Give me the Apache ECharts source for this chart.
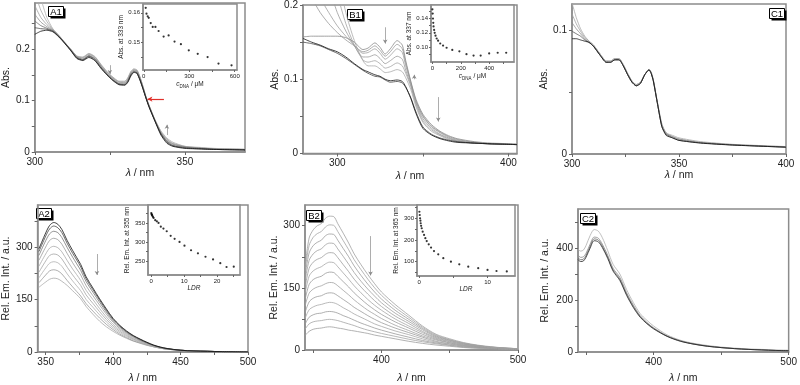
<!DOCTYPE html>
<html>
<head>
<meta charset="utf-8">
<script src="https://cdn.jsdelivr.net/npm/echarts/dist/echarts.min.js"></script>
<style>
  body { margin: 0; background: #fff; }
  #chart { width: 800px; height: 385px; }
</style>
</head>
<body>
<div id="chart"></div>
<script>
// ---- A1 : absorption, titration ----
var a1Wl = [300, 302, 304, 306, 308, 310, 312, 314, 316, 318, 320, 322, 324, 326, 328, 330, 331, 332, 333, 334, 335, 336, 337, 338, 340, 342, 344, 346, 350, 355, 360, 370];
var a1Spectra = [
  [0.360, 0.300, 0.262, 0.240, 0.227, 0.213, 0.200, 0.187, 0.185, 0.192, 0.186, 0.171, 0.157, 0.146, 0.138, 0.138, 0.145, 0.157, 0.162, 0.160, 0.147, 0.128, 0.108, 0.092, 0.063, 0.041, 0.027, 0.019, 0.011, 0.009, 0.007, 0.005],
  [0.310, 0.276, 0.254, 0.239, 0.227, 0.213, 0.200, 0.186, 0.184, 0.191, 0.185, 0.170, 0.156, 0.145, 0.137, 0.137, 0.144, 0.156, 0.161, 0.159, 0.146, 0.128, 0.108, 0.091, 0.063, 0.040, 0.025, 0.017, 0.011, 0.008, 0.006, 0.005],
  [0.285, 0.262, 0.248, 0.238, 0.226, 0.213, 0.199, 0.186, 0.183, 0.190, 0.184, 0.169, 0.155, 0.144, 0.136, 0.135, 0.142, 0.154, 0.160, 0.158, 0.145, 0.127, 0.107, 0.091, 0.062, 0.038, 0.024, 0.016, 0.010, 0.008, 0.006, 0.005],
  [0.268, 0.253, 0.244, 0.237, 0.226, 0.212, 0.199, 0.185, 0.181, 0.188, 0.182, 0.167, 0.153, 0.143, 0.134, 0.134, 0.140, 0.153, 0.159, 0.157, 0.144, 0.126, 0.107, 0.090, 0.062, 0.037, 0.022, 0.015, 0.010, 0.007, 0.006, 0.005],
  [0.255, 0.246, 0.241, 0.236, 0.225, 0.212, 0.198, 0.184, 0.180, 0.187, 0.181, 0.166, 0.152, 0.141, 0.133, 0.132, 0.139, 0.151, 0.157, 0.155, 0.142, 0.125, 0.106, 0.090, 0.061, 0.036, 0.021, 0.013, 0.009, 0.007, 0.005, 0.004],
  [0.242, 0.240, 0.239, 0.235, 0.225, 0.212, 0.198, 0.183, 0.179, 0.186, 0.179, 0.164, 0.151, 0.140, 0.132, 0.131, 0.137, 0.150, 0.156, 0.154, 0.141, 0.124, 0.106, 0.089, 0.061, 0.035, 0.019, 0.012, 0.008, 0.006, 0.005, 0.004],
  [0.229, 0.235, 0.237, 0.234, 0.224, 0.211, 0.197, 0.182, 0.178, 0.184, 0.178, 0.163, 0.150, 0.139, 0.131, 0.130, 0.136, 0.148, 0.155, 0.153, 0.140, 0.123, 0.105, 0.088, 0.060, 0.033, 0.017, 0.011, 0.007, 0.006, 0.005, 0.004]
];
var a1InsetX = [13, 18, 26, 33, 46, 59, 77, 98, 131, 164, 203, 245, 297, 356, 421, 493, 579];
var a1InsetY = [0.1617, 0.1597, 0.1588, 0.1583, 0.1565, 0.1552, 0.1552, 0.1538, 0.1519, 0.1523, 0.1502, 0.1493, 0.1472, 0.1460, 0.1449, 0.1427, 0.1421];

// ---- B1 ----
var b1Wl = [280, 285, 290, 295, 300, 305, 310, 315, 318, 322, 325, 328, 331, 335, 338, 340, 343, 346, 350, 355, 360, 365, 370, 380, 390, 405];
var b1Spectra = [
  [0.50, 0.44, 0.38, 0.31, 0.245, 0.190, 0.152, 0.125, 0.118, 0.118, 0.114, 0.109, 0.110, 0.113, 0.110, 0.102, 0.086, 0.063, 0.042, 0.030, 0.024, 0.019, 0.016, 0.014, 0.013, 0.012],
  [0.40, 0.35, 0.31, 0.26, 0.215, 0.175, 0.146, 0.126, 0.123, 0.125, 0.121, 0.115, 0.117, 0.122, 0.118, 0.108, 0.090, 0.066, 0.044, 0.032, 0.025, 0.020, 0.017, 0.014, 0.013, 0.012],
  [0.32, 0.29, 0.255, 0.225, 0.190, 0.165, 0.145, 0.130, 0.130, 0.133, 0.128, 0.121, 0.125, 0.131, 0.127, 0.112, 0.092, 0.068, 0.047, 0.034, 0.026, 0.021, 0.017, 0.014, 0.013, 0.012],
  [0.26, 0.235, 0.21, 0.19, 0.172, 0.158, 0.146, 0.135, 0.136, 0.141, 0.135, 0.127, 0.132, 0.141, 0.136, 0.118, 0.094, 0.070, 0.050, 0.036, 0.028, 0.022, 0.018, 0.015, 0.013, 0.012],
  [0.23, 0.21, 0.19, 0.175, 0.163, 0.153, 0.145, 0.137, 0.139, 0.145, 0.139, 0.131, 0.137, 0.147, 0.141, 0.122, 0.096, 0.071, 0.051, 0.037, 0.029, 0.023, 0.019, 0.015, 0.013, 0.012],
  [0.157, 0.158, 0.158, 0.158, 0.158, 0.156, 0.150, 0.140, 0.142, 0.149, 0.143, 0.134, 0.141, 0.152, 0.146, 0.125, 0.097, 0.073, 0.053, 0.039, 0.030, 0.024, 0.020, 0.016, 0.014, 0.013],
  [0.150, 0.148, 0.145, 0.140, 0.135, 0.128, 0.120, 0.112, 0.108, 0.104, 0.103, 0.099, 0.096, 0.097, 0.095, 0.089, 0.075, 0.056, 0.036, 0.026, 0.021, 0.018, 0.016, 0.014, 0.013, 0.012],
  [0.155, 0.150, 0.146, 0.141, 0.137, 0.130, 0.121, 0.113, 0.110, 0.106, 0.104, 0.100, 0.098, 0.099, 0.097, 0.090, 0.074, 0.054, 0.034, 0.025, 0.020, 0.017, 0.015, 0.014, 0.013, 0.012]
];
var b1InsetX = [0, 2, 4, 6, 8, 12, 16, 22, 30, 40, 55, 75, 100, 140, 190, 240, 290, 340, 400, 460, 520];
var b1InsetY = [0.153, 0.147, 0.140, 0.134, 0.129, 0.124, 0.120, 0.116, 0.112, 0.109, 0.105, 0.102, 0.099, 0.096, 0.094, 0.090, 0.088, 0.088, 0.091, 0.092, 0.092];

// ---- C1 ----
var c1Wl = [300, 302, 304, 306, 308, 310, 313, 316, 318, 320, 322, 324, 326, 328, 330, 332, 334, 336, 337, 338, 340, 342, 344, 347, 350, 360, 375, 400];
var c1Spectra = [
  [0.122, 0.110, 0.101, 0.095, 0.091, 0.088, 0.081, 0.075, 0.075, 0.077, 0.077, 0.072, 0.065, 0.059, 0.056, 0.058, 0.064, 0.068, 0.066, 0.060, 0.041, 0.024, 0.017, 0.015, 0.013, 0.010, 0.0078, 0.0060],
  [0.113, 0.105, 0.099, 0.094, 0.091, 0.088, 0.081, 0.075, 0.075, 0.077, 0.077, 0.072, 0.065, 0.059, 0.056, 0.058, 0.064, 0.068, 0.066, 0.060, 0.041, 0.024, 0.017, 0.014, 0.012, 0.0095, 0.0076, 0.0058],
  [0.106, 0.101, 0.097, 0.093, 0.090, 0.087, 0.080, 0.074, 0.074, 0.076, 0.076, 0.071, 0.064, 0.058, 0.055, 0.057, 0.064, 0.068, 0.065, 0.059, 0.040, 0.023, 0.016, 0.014, 0.012, 0.0092, 0.0074, 0.0056],
  [0.099, 0.097, 0.095, 0.092, 0.090, 0.087, 0.080, 0.074, 0.074, 0.076, 0.076, 0.071, 0.064, 0.058, 0.055, 0.057, 0.064, 0.068, 0.065, 0.059, 0.040, 0.022, 0.016, 0.013, 0.011, 0.0090, 0.0073, 0.0055],
  [0.093, 0.093, 0.092, 0.091, 0.090, 0.087, 0.080, 0.074, 0.074, 0.076, 0.076, 0.071, 0.064, 0.058, 0.055, 0.057, 0.064, 0.068, 0.065, 0.059, 0.040, 0.022, 0.015, 0.013, 0.011, 0.0088, 0.0072, 0.0055]
];

// ---- A2 : emission ----
var a2Wl = [345, 350, 353, 356, 359, 362, 366, 370, 373, 376, 380, 385, 390, 395, 400, 405, 410, 415, 420, 425, 430, 435, 440, 450, 460, 470, 480, 500];
var a2Spectra = [
  [185, 200, 208, 211, 209, 202, 190, 175, 164, 152, 130, 108, 88, 72, 59, 48, 39, 31, 25, 19, 15, 11, 8, 5, 3, 2, 1, 0],
  [198, 220, 232, 235, 232, 223, 204, 186, 173, 160, 138, 117, 97, 79, 64, 51, 41, 32, 26, 20, 15, 11, 8, 5, 3, 2, 1, 0],
  [212, 240, 254, 258, 255, 245, 223, 203, 189, 175, 150, 128, 106, 86, 69, 55, 44, 35, 27, 21, 15, 11, 8, 5, 3, 2, 1, 0],
  [228, 260, 276, 280, 277, 266, 242, 220, 205, 190, 163, 139, 115, 93, 74, 59, 47, 37, 29, 22, 16, 12, 8, 5, 3, 2, 1, 0],
  [245, 280, 297, 302, 298, 286, 261, 237, 221, 204, 176, 150, 124, 100, 79, 63, 50, 39, 31, 23, 17, 12, 9, 5, 3, 2, 1, 0],
  [262, 300, 319, 325, 321, 308, 281, 255, 237, 220, 189, 161, 134, 108, 85, 67, 53, 42, 33, 25, 18, 13, 9, 5, 3, 2, 1, 0],
  [276, 318, 338, 345, 341, 327, 298, 271, 252, 233, 201, 171, 142, 114, 89, 71, 56, 44, 34, 26, 19, 13, 9, 5, 3, 2, 1, 0],
  [287, 331, 352, 360, 355, 341, 310, 282, 263, 243, 209, 178, 148, 119, 93, 74, 58, 46, 36, 27, 19, 14, 10, 5, 3, 2, 1, 0],
  [295, 340, 362, 370, 365, 350, 318, 290, 270, 250, 215, 183, 152, 123, 96, 76, 60, 47, 37, 28, 20, 14, 10, 5, 3, 2, 1, 0]
];
var a2InsetX = [0, 0.1, 0.2, 0.3, 0.5, 0.7, 1.2, 1.7, 2.2, 2.9, 3.7, 4.7, 5.9, 7.1, 8.6, 10.1, 12.1, 14.2, 16.5, 18.8, 21, 22.9, 25.1];
var a2InsetY = [376, 373, 371, 369, 366, 363, 357, 354, 350, 340, 335, 328, 316, 308, 300, 290, 278, 270, 261, 254, 244, 234, 235];

// ---- B2 ----
var b2Wl = [344, 347, 350, 353, 356, 359, 362, 365, 368, 372, 376, 380, 385, 390, 395, 400, 410, 420, 430, 440, 450, 460, 470, 480, 490, 500];
var b2Spectra = [
  [35, 45, 50, 52, 53, 55, 56, 55, 53, 51, 48, 46, 43, 40, 36, 33, 27, 21, 16, 12, 9, 6, 4, 3, 2, 1],
  [50, 63, 68, 70, 71, 73, 74, 73, 71, 67, 63, 59, 53, 48, 44, 40, 33, 26, 20, 15, 11, 7, 5, 4, 2, 1],
  [62, 79, 85, 88, 89, 92, 93, 92, 89, 83, 78, 72, 65, 59, 53, 48, 39, 31, 23, 17, 12, 8, 6, 4, 3, 1],
  [76, 97, 104, 108, 110, 113, 115, 114, 110, 102, 95, 87, 79, 71, 63, 57, 46, 37, 27, 19, 14, 9, 6, 4, 3, 2],
  [90, 116, 125, 129, 131, 136, 138, 137, 131, 122, 113, 103, 93, 83, 74, 66, 53, 42, 31, 21, 15, 10, 7, 5, 3, 2],
  [106, 137, 147, 152, 155, 160, 163, 162, 155, 144, 133, 121, 108, 96, 86, 76, 60, 47, 34, 24, 17, 11, 8, 5, 3, 2],
  [121, 158, 170, 175, 178, 185, 188, 187, 178, 165, 152, 138, 123, 109, 97, 86, 68, 53, 38, 26, 18, 12, 8, 5, 4, 2],
  [136, 178, 191, 197, 201, 208, 212, 211, 201, 186, 171, 155, 138, 122, 108, 96, 75, 58, 42, 28, 20, 13, 9, 6, 4, 2],
  [150, 197, 212, 219, 223, 231, 235, 234, 223, 206, 189, 171, 152, 135, 119, 105, 82, 64, 45, 30, 21, 14, 10, 6, 4, 2],
  [165, 216, 232, 240, 244, 254, 258, 257, 244, 226, 207, 187, 166, 147, 130, 114, 89, 69, 49, 32, 23, 15, 10, 7, 4, 3],
  [178, 234, 252, 260, 265, 276, 280, 279, 265, 245, 225, 203, 180, 159, 140, 123, 96, 74, 52, 34, 24, 16, 11, 7, 5, 3],
  [190, 252, 272, 281, 286, 297, 302, 301, 286, 264, 242, 218, 194, 171, 150, 132, 103, 79, 55, 36, 25, 17, 11, 7, 5, 3],
  [200, 270, 290, 300, 305, 318, 323, 322, 305, 282, 258, 232, 206, 182, 160, 140, 110, 84, 58, 38, 27, 18, 12, 8, 5, 3]
];
var b2InsetX = [0.05, 0.1, 0.15, 0.2, 0.24, 0.3, 0.39, 0.53, 0.73, 0.92, 1.12, 1.41, 1.75, 2.18, 2.8, 3.54, 4.65, 5.87, 7.18, 8.63, 9.99, 11.3, 12.8];
var b2InsetY = [330, 315, 300, 289, 277, 265, 254, 238, 223, 208, 195, 180, 165, 149, 134, 116, 100, 88, 77, 70, 62, 57, 55];

// ---- C2 ----
var c2Wl = [344, 346, 348, 350, 353, 356, 359, 362, 366, 370, 375, 380, 385, 390, 395, 400, 410, 420, 430, 440, 450, 460, 470, 480, 490, 500];
var c2Spectra = [
  [395, 388, 392, 410, 448, 471, 465, 440, 390, 337, 300, 240, 190, 148, 122, 100, 66, 45, 33, 25, 19, 15, 12, 10, 8, 7],
  [372, 364, 366, 380, 415, 442, 438, 415, 372, 322, 287, 228, 180, 140, 114, 93, 62, 43, 31, 23, 17, 13, 10, 8, 6, 5],
  [362, 355, 357, 372, 407, 435, 431, 408, 365, 316, 280, 222, 175, 137, 111, 91, 61, 42, 30, 22, 17, 13, 10, 8, 6, 5],
  [355, 348, 350, 365, 400, 428, 424, 402, 360, 311, 275, 218, 171, 134, 109, 89, 60, 41, 30, 22, 17, 13, 10, 8, 6, 5]
];

// ---- styles ----
var FONT = '"Liberation Sans", Arial, sans-serif';
var FRAME = '#8c8c8c';
var a1Colors = ['#b0b0b0', '#a8a8a8', '#9e9e9e', '#8e8e8e', '#6a6a6a', '#444', '#111'];
var b1Colors = ['#aaa', '#a4a4a4', '#9c9c9c', '#a0a0a0', '#999', '#8a8a8a', '#444', '#111'];
var c1Colors = ['#aaa', '#a0a0a0', '#8a8a8a', '#555', '#111'];
var a2Colors = ['#aaa', '#999', '#b0b0b0', '#a4a4a4', '#aaa', '#9a9a9a', '#777', '#444', '#111'];
var b2Colors = ['#9e9e9e', '#a4a4a4', '#9a9a9a', '#a8a8a8', '#9c9c9c', '#a2a2a2', '#9a9a9a', '#a6a6a6', '#9e9e9e', '#a0a0a0', '#9c9c9c', '#a4a4a4', '#a0a0a0'];
var c2Colors = ['#b0b0b0', '#8a8a8a', '#666', '#222'];

var grids = [
  {left: 30, top: 3, width: 215, height: 149},      // 0 A1
  {left: 143, top: 4, width: 94, height: 66},       // 1 A1 inset
  {left: 303, top: 4, width: 214, height: 149.5},   // 2 B1
  {left: 431, top: 5, width: 83, height: 57},       // 3 B1 inset
  {left: 572, top: 4, width: 214, height: 150},     // 4 C1
  {left: 34, top: 205, width: 214, height: 150},    // 5 A2
  {left: 148, top: 205, width: 92, height: 70},     // 6 A2 inset
  {left: 305, top: 205, width: 213, height: 148.5}, // 7 B2
  {left: 417, top: 205, width: 98, height: 71},     // 8 B2 inset
  {left: 578, top: 209, width: 213, height: 149.5}  // 9 C2
].map(function (g) {
  return Object.assign({show: true, borderColor: FRAME, borderWidth: 1.5, backgroundColor: '#fff'}, g);
});

function axis(gi, min, max, labels, ticks, o) {
  o = o || {};
  var small = !!o.small;
  return {
    type: 'value', gridIndex: gi, min: min, max: max,
    name: o.name || '', nameLocation: 'middle', nameGap: o.gap || 18,
    nameTextStyle: {fontSize: small ? 6.5 : 10.5, color: '#222', fontFamily: FONT,
      rich: {i: {fontStyle: 'italic', fontSize: small ? 6.5 : 10.5, fontFamily: FONT, color: '#222'},
             s: {fontSize: 4.5, fontFamily: FONT, color: '#222', padding: [4, 0, 0, 0]}}},
    axisLine: {show: true, onZero: false, lineStyle: {color: FRAME, width: 1.5}},
    axisTick: {show: true, customValues: ticks, length: small ? 2 : 3, lineStyle: {color: '#666', width: 1}},
    axisLabel: {customValues: labels, fontSize: small ? 6 : 10, color: '#222', fontFamily: FONT,
      margin: small ? 3 : 5, formatter: o.fmt},
    splitLine: {show: false}
  };
}

var xAxes = [
  axis(0, 300, 370, [300, 350], [300, 325, 350], {name: '{i|λ} / nm', gap: 16}),
  axis(1, -5, 615, [0, 300, 600], [0, 150, 300, 450, 600], {small: true, name: '{i|c}{s|DNA} / μM', gap: 10}),
  axis(2, 280, 405, [300, 400], [300, 350, 400], {name: '{i|λ} / nm', gap: 17}),
  axis(3, -10, 575, [0, 200, 400], [0, 100, 200, 300, 400, 500], {small: true, name: '{i|c}{s|DNA} / μM', gap: 10}),
  axis(4, 300, 400, [300, 350, 400], [300, 325, 350, 375, 400], {name: '{i|λ} / nm', gap: 15}),
  axis(5, 344, 500, [350, 400, 450, 500], [350, 375, 400, 425, 450, 475, 500], {name: '{i|λ} / nm', gap: 21}),
  axis(6, -1, 27, [0, 10, 20], [0, 5, 10, 15, 20, 25], {small: true, name: '{i|LDR}', gap: 10}),
  axis(7, 344, 500, [400, 500], [350, 400, 450, 500], {name: '{i|λ} / nm', gap: 23}),
  axis(8, -0.3, 14, [0, 10], [0, 5, 10], {small: true, name: '{i|LDR}', gap: 10}),
  axis(9, 344, 500, [400, 500], [350, 400, 450, 500], {name: '{i|λ} / nm', gap: 21})
];
var yAxes = [
  axis(0, 0, 0.29, [0, 0.1, 0.2], [0, 0.05, 0.1, 0.15, 0.2, 0.25], {name: 'Abs.', gap: 21}),
  axis(1, 0.1405, 0.163, [0.15, 0.16], [0.145, 0.15, 0.155, 0.16], {small: true, name: 'Abs. at 333 nm', gap: 16}),
  axis(2, 0, 0.2, [0, 0.1, 0.2], [0, 0.05, 0.1, 0.15, 0.2], {name: 'Abs.', gap: 21}),
  axis(3, 0.079, 0.159, [0.10, 0.12, 0.14], [0.09, 0.10, 0.11, 0.12, 0.13, 0.14, 0.15], {small: true, name: 'Abs. at 337 nm', gap: 17,
    fmt: function (v) { return v.toFixed(2); }}),
  axis(4, 0, 0.121, [0, 0.1], [0, 0.05, 0.1], {name: 'Abs.', gap: 21}),
  axis(5, 0, 420, [0, 150, 300], [0, 75, 150, 225, 300, 375], {name: 'Rel. Em. Int. / a.u.', gap: 24}),
  axis(6, 213, 397, [250, 300, 350], [250, 275, 300, 325, 350, 375], {small: true, name: 'Rel. Em. Int. at 355 nm', gap: 15}),
  axis(7, 0, 350, [0, 150, 300], [0, 75, 150, 225, 300], {name: 'Rel. Em. Int. / a.u.', gap: 25}),
  axis(8, 34, 361, [100, 200, 300], [50, 100, 150, 200, 250, 300, 350], {small: true, name: 'Rel. Em. Int. at 365 nm', gap: 14}),
  axis(9, 0, 550, [0, 200, 400], [0, 100, 200, 300, 400, 500], {name: 'Rel. Em. Int. / a.u.', gap: 27})
];

var series = [];
function addSpectra(idx, wl, curves, colors, smooth) {
  curves.forEach(function (c, k) {
    series.push({
      type: 'line', xAxisIndex: idx, yAxisIndex: idx, symbol: 'none', smooth: smooth,
      silent: true, clip: true, z: 2 + k,
      lineStyle: {color: colors[k], width: 0.8},
      data: wl.map(function (w, i) { return [w, c[i]]; })
    });
  });
}
function addInset(idx, xs, ys) {
  series.push({
    type: 'scatter', xAxisIndex: idx, yAxisIndex: idx, symbolSize: 2.2, silent: true,
    itemStyle: {color: '#000'},
    data: xs.map(function (x, i) { return [x, ys[i]]; })
  });
}
function addArrows(idx, list, color, width, size) {
  series.push({
    type: 'line', xAxisIndex: idx, yAxisIndex: idx, data: [], silent: true, z: 20,
    markLine: {
      silent: true, animation: false, symbolSize: size, label: {show: false},
      lineStyle: {color: color, width: width, type: 'solid'},
      emphasis: {disabled: true},
      data: list.map(function (a) { return [{coord: a[0], symbol: 'none'}, {coord: a[1], symbol: 'arrow'}]; })
    }
  });
}

addSpectra(0, a1Wl, a1Spectra, a1Colors, 0.2);
addInset(1, a1InsetX, a1InsetY);
addSpectra(2, b1Wl, b1Spectra, b1Colors, 0.25);
addInset(3, b1InsetX, b1InsetY);
addSpectra(4, c1Wl, c1Spectra, c1Colors, 0.2);
addSpectra(5, a2Wl, a2Spectra, a2Colors, 0.3);
addInset(6, a2InsetX, a2InsetY);
addSpectra(7, b2Wl, b2Spectra, b2Colors, 0.3);
addInset(8, b2InsetX, b2InsetY);
addSpectra(9, c2Wl, c2Spectra, c2Colors, 0.3);

addArrows(0, [[[325, 0.169], [325, 0.152]], [[344, 0.033], [344, 0.053]]], '#8a8a8a', 0.7, [3.5, 4]);
addArrows(0, [[[343, 0.103], [337.5, 0.103]]], '#e0302a', 1.2, [4, 5]);
addArrows(2, [[[328, 0.170], [328, 0.148]], [[359, 0.076], [359, 0.043]], [[345, 0.100], [345, 0.106]]], '#8a8a8a', 0.7, [3.5, 4]);
addArrows(5, [[[388, 280], [388, 220]]], '#8a8a8a', 0.7, [3.5, 4]);
addArrows(7, [[[392, 275], [392, 180]]], '#8a8a8a', 0.7, [3.5, 4]);

// panel tags: white box, black outline, black drop shadow
function tag(text, x, y) {
  var w = 15, h = 10;
  return {
    type: 'group', left: x, top: y, z: 100, silent: true,
    children: [
      {type: 'rect', shape: {x: 2, y: 2, width: w, height: h}, style: {fill: '#000'}},
      {type: 'rect', shape: {x: 0, y: 0, width: w, height: h}, style: {fill: '#fff', stroke: '#000', lineWidth: 1}},
      {type: 'text', x: w / 2, y: h / 2 + 0.5,
       style: {text: text, fill: '#000', font: '9.5px "Liberation Sans", Arial, sans-serif',
               align: 'center', verticalAlign: 'middle'}}
    ]
  };
}

var chart = echarts.init(document.getElementById('chart'), null, {renderer: 'canvas'});
chart.setOption({
  animation: false,
  backgroundColor: '#fff',
  grid: grids,
  xAxis: xAxes,
  yAxis: yAxes,
  series: series,
  graphic: [tag('A1', 48, 6), tag('B1', 347, 9), tag('C1', 769, 8), tag('A2', 36, 208), tag('B2', 306, 210), tag('C2', 580, 213)]
});
</script>
</body>
</html>
